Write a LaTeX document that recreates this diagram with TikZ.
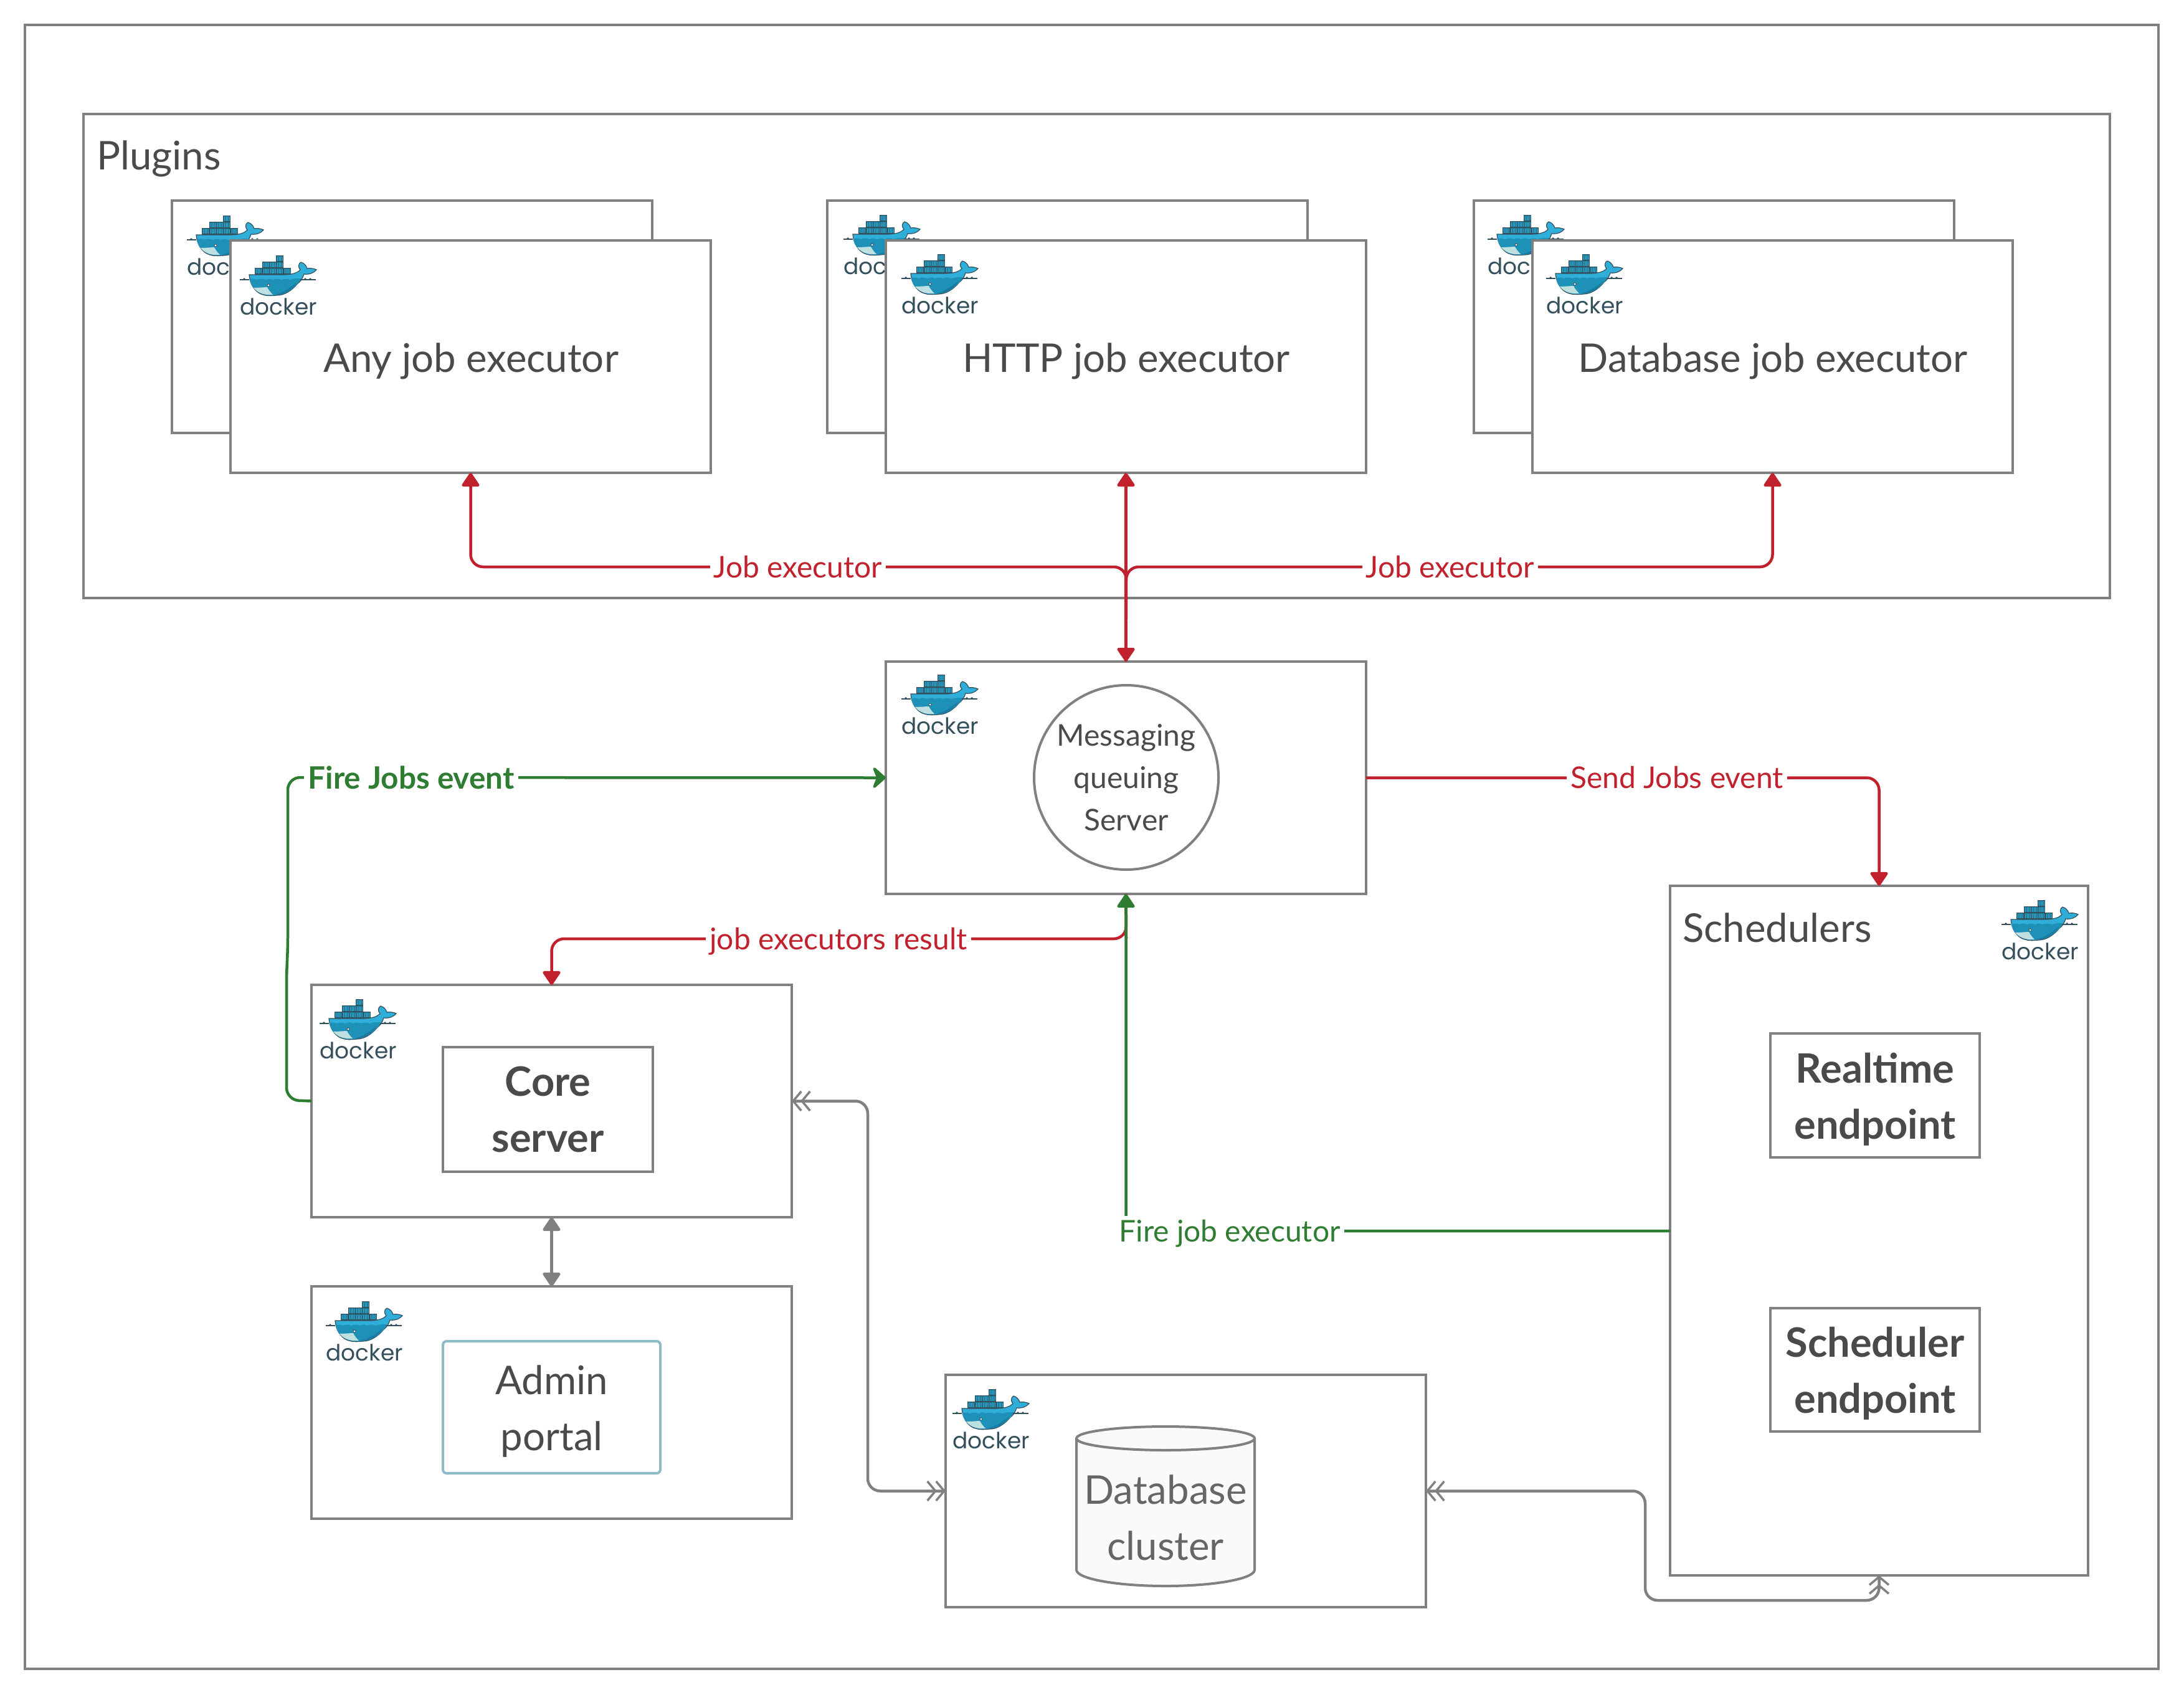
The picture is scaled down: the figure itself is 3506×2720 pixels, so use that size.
\documentclass[tikz,border=0pt]{standalone}
\usepackage{fontspec}
\setmainfont{Lato}
\newfontfamily\dockerfont{Poppins}
\usetikzlibrary{arrows.meta}
\definecolor{bordergrey}{HTML}{808080}
\definecolor{txtgrey}{HTML}{4A4A4A}
\definecolor{redc}{HTML}{C1212D}
\definecolor{greenc}{HTML}{2E7D32}
\definecolor{tealc}{HTML}{8DBBC8}
\definecolor{dkout}{HTML}{34505C}
\definecolor{whalelight}{HTML}{30AEDA}
\definecolor{whalemid}{HTML}{1E91B8}
\definecolor{whaledark}{HTML}{1A7BA3}
\definecolor{whalebelly}{HTML}{BFE0E0}
\definecolor{crate}{HTML}{1E7D9C}
\definecolor{cratelight}{HTML}{38A5C8}
\newcommand\lfs[2]{\fontsize{#1}{#2}\selectfont}
\tikzset{
  x=1pt,y=-1pt,
  box/.style={draw=bordergrey,line width=4pt,fill=white,inner sep=0pt,outer sep=0pt,anchor=north west},
  wbox/.style={box,minimum width=771pt,minimum height=373pt},
  plain/.style={text=txtgrey,inner sep=0pt,align=center},
  bigtxt/.style={plain,font=\lfs{63.5}{90}},
  boldtxt/.style={plain,font={\bfseries\lfs{65}{90}}},
  lab/.style={fill=white,inner sep=6pt,font=\lfs{48}{54}},
  redline/.style={draw=redc,line width=4.5pt,rounded corners=20pt},
  greenline/.style={draw=greenc,line width=4.5pt,rounded corners=20pt},
  greyline/.style={draw=bordergrey,line width=4.5pt,rounded corners=20pt},
  tri/.style={-{Triangle[length=24pt,width=31pt,round]}},
  swept/.style={-{Stealth[length=24pt,width=42pt,inset=8pt,round]}},
  tritwo/.style={{Triangle[length=24pt,width=31pt,round]}-{Triangle[length=24pt,width=31pt,round]}},
  chev/.tip={Straight Barb[length=13pt,width=31pt,line width=3.5pt,sep=-3pt] Straight Barb[length=13pt,width=31pt,line width=3.5pt]},
  dockerlogo/.pic={
    \foreach \cx/\cy in {58/1,36/11,47/11,58/11,24/21,36/21,47/21,58/21,70/21}{
      \fill[fill=dkout] (\cx,\cy) rectangle ++(12,10.5);
      \fill[fill=crate] (\cx+1,\cy+1.2) rectangle ++(10,8);
      \foreach \s in {2.5,5,7.5,10}{\draw[line width=.8pt,draw=cratelight] (\cx+\s,\cy+2) -- ++(0,6.5);}
    }
    \path[fill=whalelight,draw=dkout,line width=1.2pt]
      (15,32) -- (68,32) .. controls (82,32) and (92,30) .. (97,24)
      .. controls (93,20) and (94,14) .. (98,12)
      .. controls (103,13) and (107,18) .. (108,22)
      .. controls (112,21) and (119,22) .. (123,24)
      .. controls (119,29) and (112,32) .. (103,31)
      .. controls (100,40) and (96,44) .. (93,46)
      .. controls (84,57) and (72,65) .. (60,65)
      .. controls (50,66) and (42,66) .. (37,64)
      .. controls (28,62) and (17,52) .. (15,32) -- cycle;
    \fill[fill=whalemid] (15.8,40)
      .. controls (20,38) and (24,38) .. (28,40) .. controls (32,38) and (36,38) .. (42,40)
      .. controls (46,38) and (50,38) .. (54,40) .. controls (58,38) and (62,38) .. (66,40)
      .. controls (72,38) and (76,38) .. (80,40) .. controls (86,38) and (92,38) .. (98,38)
      .. controls (96,44) and (94,45) .. (93,46)
      .. controls (84,57) and (72,64) .. (60,64)
      .. controls (50,65) and (42,65) .. (37,63)
      .. controls (28,61) and (18,52) .. (15.8,40) -- cycle;
    \fill[fill=whaledark] (56,64) .. controls (72,60) and (84,50) .. (92,44)
      .. controls (84,57) and (72,64) .. (60,64) -- cycle;
    \fill[fill=whalebelly] (22,53) .. controls (30,53) and (40,52) .. (44,52)
      .. controls (46,56) and (49,60) .. (53,64)
      .. controls (42,65) and (30,63) .. (22,53) -- cycle;
    \fill[fill=white,draw=dkout,line width=.8pt] (46,49) circle[radius=2pt];
    \draw[draw=dkout,line width=1.2pt] (0,40) -- (15,40) (97,40) -- (122,40);
    \fill[fill=dkout] (4,40) -- (7,37) -- (10,40) -- cycle (102,40) -- (105,37) -- (108,40) -- cycle (110,40) -- (113,37) -- (116,40) -- cycle;
    \node[inner sep=0pt,anchor=base,text=dkout,font={\dockerfont\lfs{36}{40}}] (word) at (62,96) {docker};
  }
}
\begin{document}
\begin{tikzpicture}
\path[use as bounding box,fill=white] (0,0) rectangle (3506,2720);

\node[box,minimum width=3425pt,minimum height=2639pt] (outer) at (40,40) {};
\node[box,minimum width=3253pt,minimum height=777pt] (plugins) at (134,183) {};
\node[plain,anchor=west,font=\lfs{63.5}{74}] (pluginslabel) at (155,255) {Plugins};

% plugin boxes
\node[wbox] (anyb) at (276,322) {};
\pic (lg1) at (300,345) {dockerlogo};
\node[wbox] (anyf) at (370,386) {};
\pic (lg2) at (385,409) {dockerlogo};
\node[bigtxt] (anyt) at (756,580) {Any job executor};

\node[wbox] (httpb) at (1328,322) {};
\pic (lg3) at (1354,344) {dockerlogo};
\node[wbox] (httpf) at (1422,386) {};
\pic (lg4) at (1447,407) {dockerlogo};
\node[bigtxt] (httpt) at (1808,580) {HTTP job executor};

\node[wbox] (dbb) at (2366,322) {};
\pic (lg5) at (2388,344) {dockerlogo};
\node[wbox] (dbf) at (2460,386) {};
\pic (lg6) at (2482,407) {dockerlogo};
\node[bigtxt] (dbt) at (2846,580) {Database job executor};

% messaging
\node[wbox] (msg) at (1422,1062) {};
\pic (lg7) at (1447,1082) {dockerlogo};
\node[draw=bordergrey,line width=4pt,circle,minimum size=296pt,inner sep=0pt,outer sep=0pt,text=txtgrey,align=center,font=\lfs{48}{68}] (mq) at (1808,1248) {Messaging\\queuing\\Server};

% schedulers
\node[box,minimum width=671pt,minimum height=1107pt] (sched) at (2681,1422) {};
\node[plain,anchor=west,font=\lfs{63.5}{74}] (schedlabel) at (2701,1489) {Schedulers};
\pic (lg8) at (3213,1444) {dockerlogo};
\node[box,anchor=center,minimum width=336pt,minimum height=199pt] (rt) at (3010,1758) {};
\node[boldtxt] (rtt) at (3010,1765) {Realtime\\endpoint};
\node[box,anchor=center,minimum width=336pt,minimum height=198pt] (se) at (3010,2199) {};
\node[boldtxt] (set) at (3010,2205) {Scheduler\\endpoint};

% core
\node[wbox] (core) at (500,1581) {};
\pic (lg9) at (513,1603) {dockerlogo};
\node[box,anchor=center,minimum width=337pt,minimum height=200pt] (cs) at (879.5,1781) {};
\node[boldtxt] (cst) at (879.5,1781) {Core\\server};

% admin
\node[wbox] (admin) at (500,2065) {};
\pic (lg10) at (523,2088) {dockerlogo};
\node[box,draw=tealc,rounded corners=6pt,anchor=center,minimum width=349pt,minimum height=212pt] (ap) at (885.5,2259) {};
\node[bigtxt] (apt) at (885.5,2266) {Admin\\portal};

% database
\node[wbox] (db) at (1518,2207) {};
\pic (lg11) at (1529,2229) {dockerlogo};
\path[draw=bordergrey,line width=4pt,fill=black!2]
  (1728,2309) arc[start angle=180,end angle=0,x radius=143pt,y radius=19pt]
  -- (2014,2520) arc[start angle=0,end angle=-180,x radius=143pt,y radius=26pt] -- cycle;
\draw[draw=bordergrey,line width=4pt] (1728,2309) arc[start angle=180,end angle=360,x radius=143pt,y radius=19pt];
\node[plain,text=black!60,font=\lfs{63.5}{90}] (dbct) at (1871,2436) {Database\\cluster};

% red connectors
\coordinate (jct) at (1808,910);
\coordinate (lowred) at (1808,1507);
\draw[redline,tritwo] (msg.north) -- (httpf.south);
\draw[redline,tri] (msg.north) -- (jct) -| (anyf.south);
\draw[redline,tri] (msg.north) -- (jct) -| (dbf.south);
\node[lab,text=redc] (l1) at (1281,910) {Job executor};
\node[lab,text=redc] (l2) at (2328,910) {Job executor};
\draw[redline,tri] (msg.east) -| (sched.north);
\node[lab,text=redc] (l3) at (2692,1248) {Send Jobs event};
\draw[redline] (msg.south) -- (lowred);
\draw[redline,tri] (msg.south) -- (lowred) -| (core.north);
\node[lab,text=redc] (l4) at (1346,1511) {job executors result};

% green connectors
\draw[greenline,swept] (core.west) -- (460,1766) -- (460,1560) -- (462,1525) -- (462,1248) -- (msg.west);
\node[lab,text=greenc,font={\bfseries\lfs{49.5}{54}}] (l5) at (660,1248) {Fire Jobs event};
\draw[greenline,tri] (sched.west |- 0,1976) -| (msg.south);
\node[lab,text=greenc] (l6) at (1974,1980) {Fire job executor};

% grey connectors
\draw[greyline,tritwo] (core.south) -- (admin.north);
\draw[greyline,chev-chev] (core.east) -- (1393,1767.5) -- (1393,2393.5) -- (db.west);
\draw[greyline,chev-chev] (db.east) -- (2641,2393.5) -- (2641,2569) -- (3016.5,2569) -- (sched.south);
\end{tikzpicture}
\end{document}
